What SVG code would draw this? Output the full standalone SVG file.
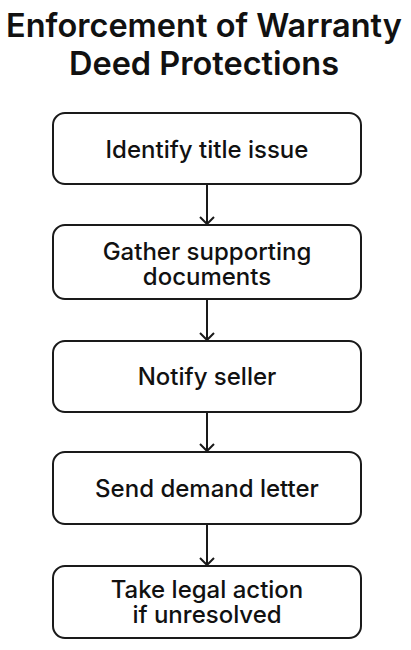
<svg xmlns="http://www.w3.org/2000/svg" width="411" height="650" viewBox="0 0 411 650">
<style>
.box{fill:#fff;stroke:#1a1a1a;stroke-width:2}
.lbl{font-family:Inter,"Noto Sans",sans-serif;font-size:24px;font-weight:500;fill:#111;text-anchor:middle}
.title{font-family:Inter,"Noto Sans",sans-serif;font-size:32.5px;font-weight:600;fill:#111;text-anchor:middle}
.conn{stroke:#1a1a1a;stroke-width:2;fill:none}
</style>
<defs>
<marker id="arr" markerWidth="12" markerHeight="16" refX="9" refY="8" orient="auto" markerUnits="userSpaceOnUse" viewBox="0 0 12 16">
<path d="M2,1 L9,8 L2,15" fill="none" stroke="#1a1a1a" stroke-width="2"/>
</marker>
</defs>
<rect width="411" height="650" fill="#fff"/>
<g id="title">
<text class="title" x="204" y="37">Enforcement of Warranty</text>
<text class="title" x="204" y="75">Deed Protections</text>
</g>
<g id="connectors">
<line class="conn" x1="207" y1="184" x2="207" y2="224" marker-end="url(#arr)"/>
<line class="conn" x1="207" y1="299" x2="207" y2="340" marker-end="url(#arr)"/>
<line class="conn" x1="207" y1="412" x2="207" y2="451" marker-end="url(#arr)"/>
<line class="conn" x1="207" y1="524" x2="207" y2="565" marker-end="url(#arr)"/>
</g>
<g id="n1">
<rect class="box" x="53" y="113" width="308" height="71" rx="12"/>
<text class="lbl" x="207" y="158">Identify title issue</text>
</g>
<g id="n2">
<rect class="box" x="53" y="225" width="308" height="74" rx="12"/>
<text class="lbl" x="207" y="260">Gather supporting</text>
<text class="lbl" x="207" y="285">documents</text>
</g>
<g id="n3">
<rect class="box" x="53" y="341" width="308" height="71" rx="12"/>
<text class="lbl" x="207" y="385">Notify seller</text>
</g>
<g id="n4">
<rect class="box" x="53" y="452" width="308" height="72" rx="12"/>
<text class="lbl" x="207" y="497">Send demand letter</text>
</g>
<g id="n5">
<rect class="box" x="53" y="566" width="308" height="72" rx="12"/>
<text class="lbl" x="207" y="598">Take legal action</text>
<text class="lbl" x="207" y="623">if unresolved</text>
</g>
</svg>
